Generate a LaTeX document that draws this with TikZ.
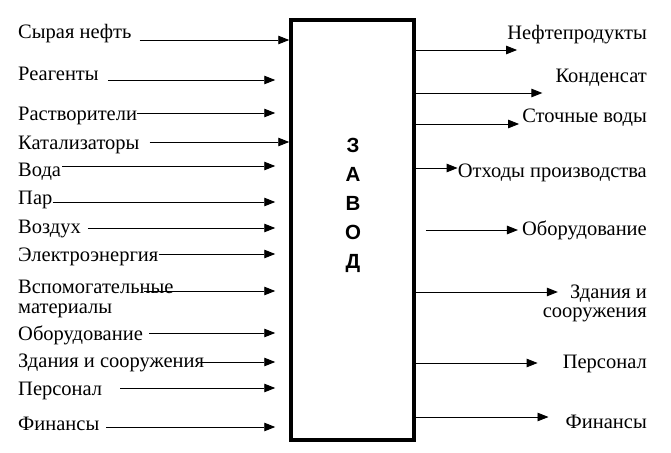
\documentclass[tikz,border=0pt]{standalone}
\usepackage{fontspec}
\setmainfont{Liberation Serif}
\newfontfamily\zavodfont{Liberation Sans}
\usetikzlibrary{arrows.meta,calc}

\begin{document}
\begin{tikzpicture}[x=1pt,y=-1pt, inlbl/.style={anchor=base west,inner sep=0pt,font=\fontsize{20.5}{20}\selectfont}, outlbl/.style={anchor=base east,inner sep=0pt,font=\fontsize{20.5}{20}\selectfont}, flow/.style={-{Triangle[length=11pt,width=8.5pt]},line width=0.9pt}]
\useasboundingbox (0,0) rectangle (671,452);
\node[draw,line width=3.5pt,minimum width=123pt,minimum height=420pt,inner sep=0pt] (plant) at (352.5,230) {};
\node[font=\zavodfont\bfseries\fontsize{20.5}{29}\selectfont,align=center,inner sep=0pt] (title) at (353,205) {З\\А\\В\\О\\Д};
\coordinate (gap) at ([xshift=-14pt]plant.west);
% inputs
\node[inlbl] (in1) at (18,38) {Сырая нефть};
\node[inlbl] (in2) at (18,80) {Реагенты};
\node[inlbl] (in3) at (18,120) {Растворители};
\node[inlbl] (in4) at (18,149) {Катализаторы};
\node[inlbl] (in5) at (18,176) {Вода};
\node[inlbl] (in6) at (18,204) {Пар};
\node[inlbl] (in7) at (18,233) {Воздух};
\node[inlbl] (in8) at (18,261) {Электроэнергия};
\node[inlbl] (in9) at (18,293) {Вспомогательные};
\node[inlbl] (in9b) at (18,313) {материалы};
\node[inlbl] (in10) at (18,340) {Оборудование};
\node[inlbl] (in11) at (18,367) {Здания и сооружения};
\node[inlbl] (in12) at (18,395) {Персонал};
\node[inlbl] (in13) at (18,430) {Финансы};
\draw[flow] ($(in1.base east)+(8,2)$) -- ($(in1.base east -| plant.west)+(0,2)$);
\draw[flow] ($(in2.base east)+(9,0)$) -- (in2.base east -| gap);
\draw[flow] ($(in3.base east)+(0,-7)$) -- ($(in3.base east -| gap)+(0,-7)$);
\draw[flow] ($(in4.base east)+(10,-7)$) -- ($(in4.base east -| plant.west)+(0,-7)$);
\draw[flow] ($(in5.base east)+(1,-10)$) -- ($(in5.base east -| gap)+(0,-10)$);
\draw[flow] ($(in6.base east)+(0,-2)$) -- ($(in6.base east -| gap)+(0,-2)$);
\draw[flow] ($(in7.base east)+(7,-5)$) -- ($(in7.base east -| gap)+(0,-5)$);
\draw[flow] ($(in8.base east)+(0,-7)$) -- ($(in8.base east -| gap)+(0,-7)$);
\draw[flow] ($(in9.base east)+(-30,-2)$) -- ($(in9.base east -| gap)+(0,-2)$);
\draw[flow] ($(in10.base east)+(6,-7)$) -- ($(in10.base east -| gap)+(0,-7)$);
\draw[flow] ($(in11.base east)+(-3,-5)$) -- ($(in11.base east -| gap)+(0,-5)$);
\draw[flow] ($(in12.base east)+(18,-7)$) -- ($(in12.base east -| gap)+(0,-7)$);
\draw[flow] ($(in13.base east)+(7,-3)$) -- ($(in13.base east -| gap)+(0,-3)$);
% outputs
\node[outlbl] (out1) at (647,40) {Нефтепродукты};
\node[outlbl] (out2) at (647,82) {Конденсат};
\node[outlbl] (out3) at (647,122) {Сточные воды};
\node[outlbl] (out4) at (647,177) {Отходы производства};
\node[outlbl] (out5) at (647,235) {Оборудование};
\node[outlbl] (out6) at (647,298) {Здания и};
\node[outlbl] (out6b) at (647,317) {сооружения};
\node[outlbl] (out7) at (647,368) {Персонал};
\node[outlbl] (out8) at (647,428) {Финансы};
\draw[flow] ($(out1.base west -| plant.east)+(0,10)$) -- ($(out1.base west)+(10,10)$);
\draw[flow] ($(out2.base west -| plant.east)+(0,11)$) -- ($(out2.base west)+(-13,11)$);
\draw[flow] ($(out3.base west -| plant.east)+(0,2)$) -- ($(out3.base west)+(-3,2)$);
\draw[flow] ($(out4.base west -| plant.east)+(0,-9)$) -- ($(out4.base west)+(0,-9)$);
\draw[flow] ($(out5.base west -| plant.east)+(10,-5)$) -- ($(out5.base west)+(-4,-5)$);
\draw[flow] ($(out6.base west -| plant.east)+(0,-6)$) -- ($(out6.base west)+(-12,-6)$);
\draw[flow] ($(out7.base west -| plant.east)+(0,-5)$) -- ($(out7.base west)+(-25,-5)$);
\draw[flow] ($(out8.base west -| plant.east)+(0,-11)$) -- ($(out8.base west)+(-17,-11)$);
\end{tikzpicture}
\end{document}
